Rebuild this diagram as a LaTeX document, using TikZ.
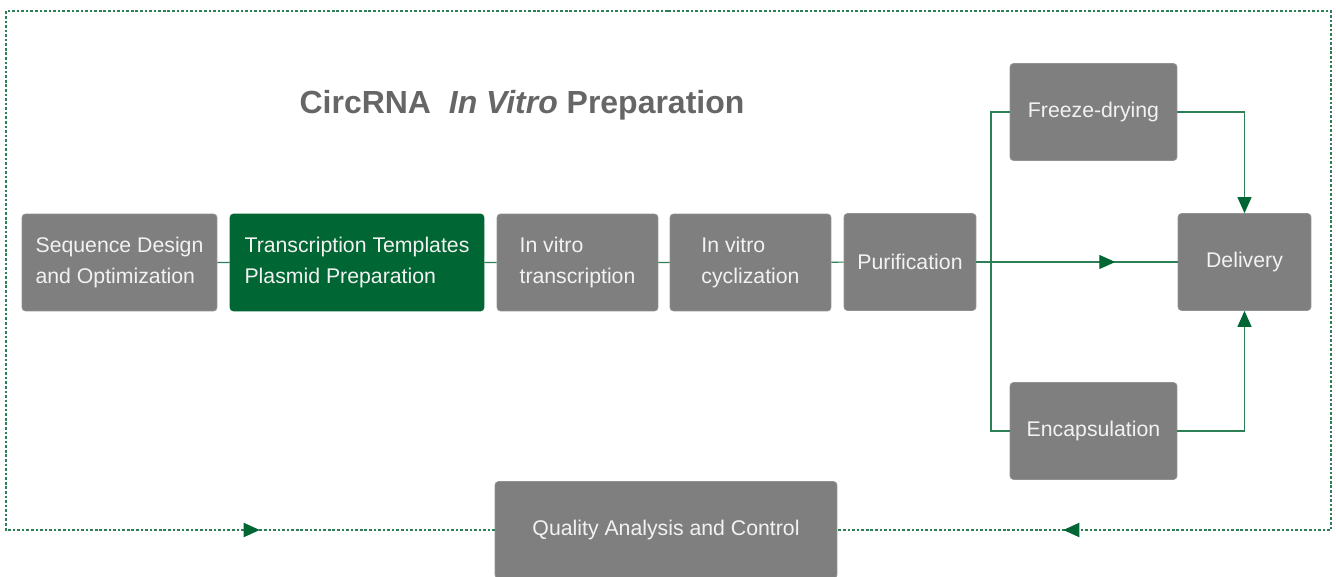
\documentclass[tikz,border=0pt]{standalone}
\usepackage{fontspec}
\setmainfont{Liberation Sans}
\usetikzlibrary{arrows.meta,decorations.markings}
\definecolor{boxgray}{RGB}{127,127,127}
\definecolor{boxgreen}{RGB}{0,102,51}
\definecolor{linegreen}{RGB}{45,128,85}
\definecolor{arrowgreen}{RGB}{0,102,51}
\definecolor{titlegray}{RGB}{102,102,102}

\begin{document}
\begin{tikzpicture}[x=0.02cm,y=-0.02cm,
	  stepbox/.style={draw=boxgray!85!white, fill=boxgray, rounded corners=2pt, text=white!95!black,
	    align=left, inner sep=0pt, minimum height=1.94cm, font=\fontsize{12.1}{18.2}\selectfont},
	  link/.style={draw=linegreen, line width=0.6pt},
	  tipgreen/.style={-{Triangle[length=0.32cm,width=0.28cm,color=arrowgreen]}},
	  frame/.style={draw=linegreen, line width=1.1pt, dash pattern=on 1.5pt off 1.1pt},
	  midtip/.style={postaction={decorate}, decoration={markings,
	    mark=at position #1 with {\arrow{Triangle[length=0.32cm,width=0.28cm,color=arrowgreen]}}}}]
	  \useasboundingbox (0,0) rectangle (1336,577);
	  % dotted feedback frame
	  \coordinate (ftop) at (668,11);
	  \coordinate (fbl) at (6,530);
	  \coordinate (fbr) at (1331,530);
	  \node[stepbox, minimum width=6.84cm] (qac) at (666,530) {Quality Analysis and Control};
	  \draw[frame, midtip=-4.7cm] (ftop) -| (fbl) -- (qac.west);
	  \draw[frame, midtip=-4.52cm] (ftop) -| (fbr) -- (qac.east);
	  % title
	  \node[text=titlegray, font=\fontsize{18.2}{22}\selectfont\bfseries] (ttl) at (522,105)
	    {CircRNA\ \ \textit{In Vitro} Preparation};
	  % main chain
	  \node[stepbox, minimum width=3.9cm] (seq) at (119.5,262.5) {Sequence Design\\and Optimization};
	  \node[stepbox, minimum width=5.08cm, fill=boxgreen, draw=boxgreen] (tpl) at (357,262.5)
	    {Transcription Templates\\Plasmid Preparation};
	  \node[stepbox, minimum width=3.22cm] (ivt) at (577.5,262.5) {In vitro\\transcription};
	  \node[stepbox, minimum width=3.22cm] (ivc) at (750.5,262.5) {In vitro\\cyclization};
	  \node[stepbox, minimum width=2.64cm] (pur) at (910,262) {Purification};
	  \node[stepbox, minimum width=3.34cm] (fd) at (1093.5,112) {Freeze-drying};
	  \node[stepbox, minimum width=2.66cm] (dlv) at (1244.5,262) {Delivery};
	  \node[stepbox, minimum width=3.34cm] (enc) at (1093.5,431) {Encapsulation};
	  \draw[link] (seq) -- (tpl) -- (ivt) -- (ivc) -- (pur);
	  \draw[link, midtip=2.78cm] (pur) -- (dlv);
	  % branches
	  \coordinate (br) at (991,262);
	  \draw[link] (fd.west) -| (br) |- (enc.west);
	  \draw[link, tipgreen] (fd.east) -| (dlv.north);
	  \draw[link, tipgreen] (enc.east) -| (dlv.south);
	\end{tikzpicture}
\end{document}
